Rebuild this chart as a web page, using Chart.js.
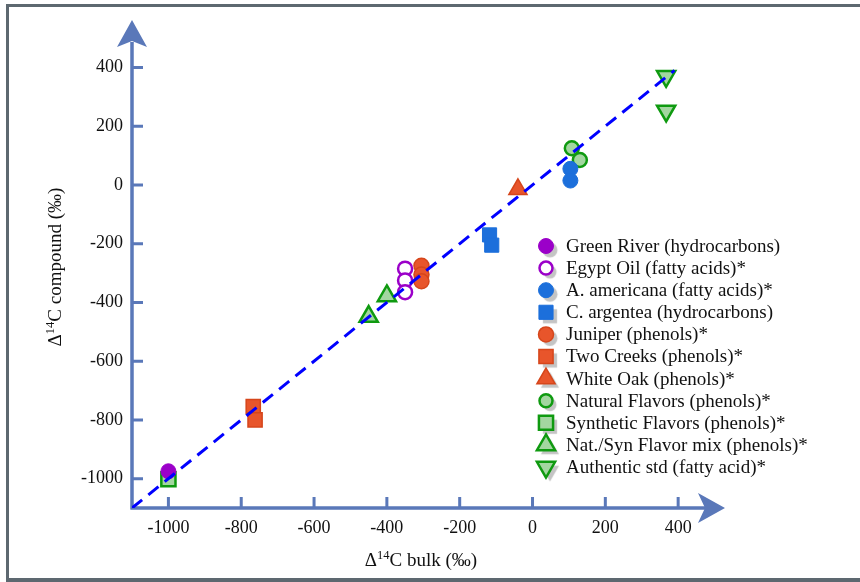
<!DOCTYPE html>
<html>
<head>
<meta charset="utf-8">
<script src="https://cdn.jsdelivr.net/npm/chart.js@4/dist/chart.umd.min.js"></script>
<style>
  html, body { margin: 0; padding: 0; background: #fff; }
  #wrap { width: 860px; height: 582px; position: relative; }
</style>
</head>
<body>
<div id="wrap"><canvas id="myChart"></canvas></div>
<script>
// tick labels
const xTicks = [-1000, -800, -600, -400, -200, 0, 200, 400];
const yTicks = [-1000, -800, -600, -400, -200, 0, 200, 400];

// 1:1 line end points
const lineX = [-1100, 390];
const lineY = [-1100, 390];

// samples: bulk (x) and compound (y) values
const greenRiverX = [-1000];
const greenRiverY = [-975];
const egyptOilX = [-350, -350, -350];
const egyptOilY = [-285, -325, -365];
const americanaX = [104, 104];
const americanaY = [55, 15];
const argenteaX = [-118, -112];
const argenteaY = [-170, -205];
const juniperX = [-305, -305, -305];
const juniperY = [-275, -305, -328];
const twoCreeksX = [-767, -762];
const twoCreeksY = [-755, -800];
const whiteOakX = [-40];
const whiteOakY = [-15];
const naturalX = [108, 130];
const naturalY = [125, 85];
const syntheticX = [-1000];
const syntheticY = [-1002];
const mixX = [-400, -450];
const mixY = [-378, -448];
const authenticX = [367, 367];
const authenticY = [370, 252];

const pts = (xs, ys) => xs.map((x, i) => ({ x: x, y: ys[i] }));

const PURPLE = "#9b00c9";
const BLUE = "#1c6fdb";
const ORANGE = "#e8552b";
const ORANGE_DK = "#d6461b";
const GREEN = "#0f9a10";
const GREEN_LT = "#a3d6a0";
const AXIS = "#5a78b9";
const SERIF = "'Liberation Serif', 'DejaVu Serif', serif";

const series = [
  { label: "Green River (hydrocarbons)", data: pts(greenRiverX, greenRiverY), pointStyle: "circle", pointRadius: 7.5, backgroundColor: PURPLE, borderColor: PURPLE, borderWidth: 1 },
  { label: "Egypt Oil (fatty acids)*", data: pts(egyptOilX, egyptOilY), pointStyle: "circle", pointRadius: 7, backgroundColor: "#ffffff", borderColor: PURPLE, borderWidth: 2.5 },
  { label: "A. americana (fatty acids)*", data: pts(americanaX, americanaY), pointStyle: "circle", pointRadius: 7.5, backgroundColor: BLUE, borderColor: BLUE, borderWidth: 1 },
  { label: "C. argentea (hydrocarbons)", data: pts(argenteaX, argenteaY), pointStyle: "rect", pointRadius: 10, backgroundColor: BLUE, borderColor: BLUE, borderWidth: 1 },
  { label: "Juniper (phenols)*", data: pts(juniperX, juniperY), pointStyle: "circle", pointRadius: 7.5, backgroundColor: ORANGE, borderColor: ORANGE_DK, borderWidth: 1.5 },
  { label: "Two Creeks (phenols)*", data: pts(twoCreeksX, twoCreeksY), pointStyle: "rect", pointRadius: 10, backgroundColor: ORANGE, borderColor: ORANGE_DK, borderWidth: 1.5 },
  { label: "White Oak (phenols)*", data: pts(whiteOakX, whiteOakY), pointStyle: "triangle", pointRadius: 10.5, backgroundColor: ORANGE, borderColor: ORANGE_DK, borderWidth: 1.5 },
  { label: "Natural Flavors (phenols)*", data: pts(naturalX, naturalY), pointStyle: "circle", pointRadius: 7, backgroundColor: GREEN_LT, borderColor: GREEN, borderWidth: 2.5 },
  { label: "Synthetic Flavors (phenols)*", data: pts(syntheticX, syntheticY), pointStyle: "rect", pointRadius: 10, backgroundColor: GREEN_LT, borderColor: GREEN, borderWidth: 2.5 },
  { label: "Nat./Syn Flavor mix (phenols)*", data: pts(mixX, mixY), pointStyle: "triangle", pointRadius: 10.5, backgroundColor: GREEN_LT, borderColor: GREEN, borderWidth: 2.5 },
  { label: "Authentic std (fatty acid)*", data: pts(authenticX, authenticY), pointStyle: "triangle", rotation: 180, pointRadius: 10.5, backgroundColor: GREEN_LT, borderColor: GREEN, borderWidth: 2.5 },
];

// own marker drawing for the legend (same shapes as chart.js points)
function marker(ctx, style, r, rot, x, y) {
  ctx.beginPath();
  if (style === "circle") {
    ctx.arc(x, y, r, 0, Math.PI * 2);
  } else if (style === "rect") {
    const s = r * Math.SQRT1_2;
    ctx.rect(x - s, y - s, 2 * s, 2 * s);
  } else {
    const a0 = (rot || 0) * Math.PI / 180;
    for (let k = 0; k < 3; k++) {
      const a = a0 + k * 2 * Math.PI / 3;
      const px = x + Math.sin(a) * r, py = y - Math.cos(a) * r;
      if (k === 0) ctx.moveTo(px, py); else ctx.lineTo(px, py);
    }
  }
  ctx.closePath();
}

function deltaTitle(ctx, tail, x, y) {
  const big = "19px " + SERIF, small = "12.5px " + SERIF;
  ctx.font = big; const w1 = ctx.measureText("\u0394").width; const w3 = ctx.measureText(tail).width;
  ctx.font = small; const w2 = ctx.measureText("14").width;
  let cx = x - (w1 + w2 + w3) / 2;
  ctx.textAlign = "left"; ctx.textBaseline = "alphabetic";
  ctx.font = big; ctx.fillText("\u0394", cx, y); cx += w1;
  ctx.font = small; ctx.fillText("14", cx, y - 7); cx += w2;
  ctx.font = big; ctx.fillText(tail, cx, y);
}

const decor = {
  id: "decor",
  beforeDatasetsDraw(chart) {
    const ctx = chart.ctx, a = chart.chartArea;
    const xs = chart.scales.x, ys = chart.scales.y;
    ctx.save();
    // frame
    ctx.fillStyle = "#5d6870";
    ctx.fillRect(6, 4, 854, 3);
    ctx.fillRect(6, 4, 3, 578);
    ctx.fillRect(6, 578, 854, 4);
    // axes
    ctx.strokeStyle = AXIS; ctx.fillStyle = AXIS; ctx.lineWidth = 3.5;
    ctx.beginPath();
    ctx.moveTo(a.left - 1.5, a.bottom); ctx.lineTo(a.right + 5, a.bottom);
    ctx.moveTo(a.left, a.bottom + 1.5); ctx.lineTo(a.left, a.top - 2);
    ctx.stroke();
    ctx.lineWidth = 3;
    ctx.beginPath();
    xTicks.forEach(v => { const p = xs.getPixelForValue(v); ctx.moveTo(p, a.bottom); ctx.lineTo(p, a.bottom - 11); });
    yTicks.forEach(v => { const p = ys.getPixelForValue(v); ctx.moveTo(a.left, p); ctx.lineTo(a.left + 11, p); });
    ctx.stroke();
    // arrow heads
    ctx.beginPath();
    ctx.moveTo(a.right + 25, a.bottom); ctx.lineTo(a.right - 2, a.bottom - 15);
    ctx.lineTo(a.right + 5, a.bottom); ctx.lineTo(a.right - 2, a.bottom + 15);
    ctx.closePath(); ctx.fill();
    ctx.beginPath();
    ctx.moveTo(a.left, a.top - 24); ctx.lineTo(a.left - 15, a.top + 3);
    ctx.lineTo(a.left, a.top - 3); ctx.lineTo(a.left + 15, a.top + 3);
    ctx.closePath(); ctx.fill();
    // axis titles
    ctx.fillStyle = "#111";
    deltaTitle(ctx, "C bulk (\u2030)", 421, 566);
    ctx.translate(61, 267); ctx.rotate(-Math.PI / 2);
    deltaTitle(ctx, "C compound (\u2030)", 0, 0);
    ctx.restore();
  },
  afterDraw(chart) {
    const ctx = chart.ctx;
    ctx.save();
    chart.data.datasets.forEach((ds, i) => {
      if (ds.isFit) return;
      const row = i - 1;
      const x = 546, y = 246 + row * 22.1;
      const r = ds.pointStyle === "rect" ? 10 : ds.pointStyle === "triangle" ? 10.5 : 7.5;
      ctx.save();
      ctx.shadowColor = "#c4c4c4"; ctx.shadowOffsetX = 4; ctx.shadowOffsetY = 4; ctx.shadowBlur = 1;
      marker(ctx, ds.pointStyle, ds.pointStyle === "circle" && ds.borderWidth > 2 ? 6.5 : r, ds.rotation, x, y);
      ctx.fillStyle = ds.backgroundColor; ctx.fill();
      ctx.shadowColor = "rgba(0,0,0,0)";
      ctx.strokeStyle = ds.borderColor; ctx.lineWidth = ds.borderWidth; ctx.stroke();
      ctx.restore();
      ctx.fillStyle = "#111"; ctx.font = "19px " + SERIF;
      ctx.textAlign = "left"; ctx.textBaseline = "middle";
      ctx.fillText(ds.label, 566, y + 1);
    });
    ctx.restore();
  }
};

const fitLine = {
  type: "line", label: "1:1", isFit: true,
  data: pts(lineX, lineY),
  borderColor: "#0000ff", borderWidth: 3, borderDash: [13, 8],
  pointRadius: 0, fill: false, showLine: true
};

const ctx = document.getElementById("myChart");
new Chart(ctx, {
  type: "scatter",
  data: { datasets: [fitLine].concat(series.map(s => Object.assign({ showLine: false, pointHoverRadius: s.pointRadius }, s))) },
  options: {
    responsive: true,
    maintainAspectRatio: false,
    animation: false,
    layout: { padding: { left: 10, right: 160, top: 44, bottom: 0 } },
    plugins: { legend: { display: false }, tooltip: { enabled: false } },
    scales: {
      x: {
        type: "linear", min: -1100, max: 460,
        grid: { display: false, drawTicks: false }, border: { display: false },
        afterBuildTicks: s => { s.ticks = xTicks.map(v => ({ value: v })); },
        afterFit: s => { s.height = 74; },
        ticks: { padding: 9, color: "#111", font: { family: SERIF, size: 18 }, callback: v => String(v) }
      },
      y: {
        type: "linear", min: -1100, max: 480,
        grid: { display: false, drawTicks: false }, border: { display: false },
        afterBuildTicks: s => { s.ticks = yTicks.map(v => ({ value: v })); },
        afterFit: s => { s.width = 122; },
        ticks: { padding: 9, color: "#111", font: { family: SERIF, size: 18 }, callback: v => String(v) }
      }
    }
  },
  plugins: [decor]
});
</script>
</body>
</html>
